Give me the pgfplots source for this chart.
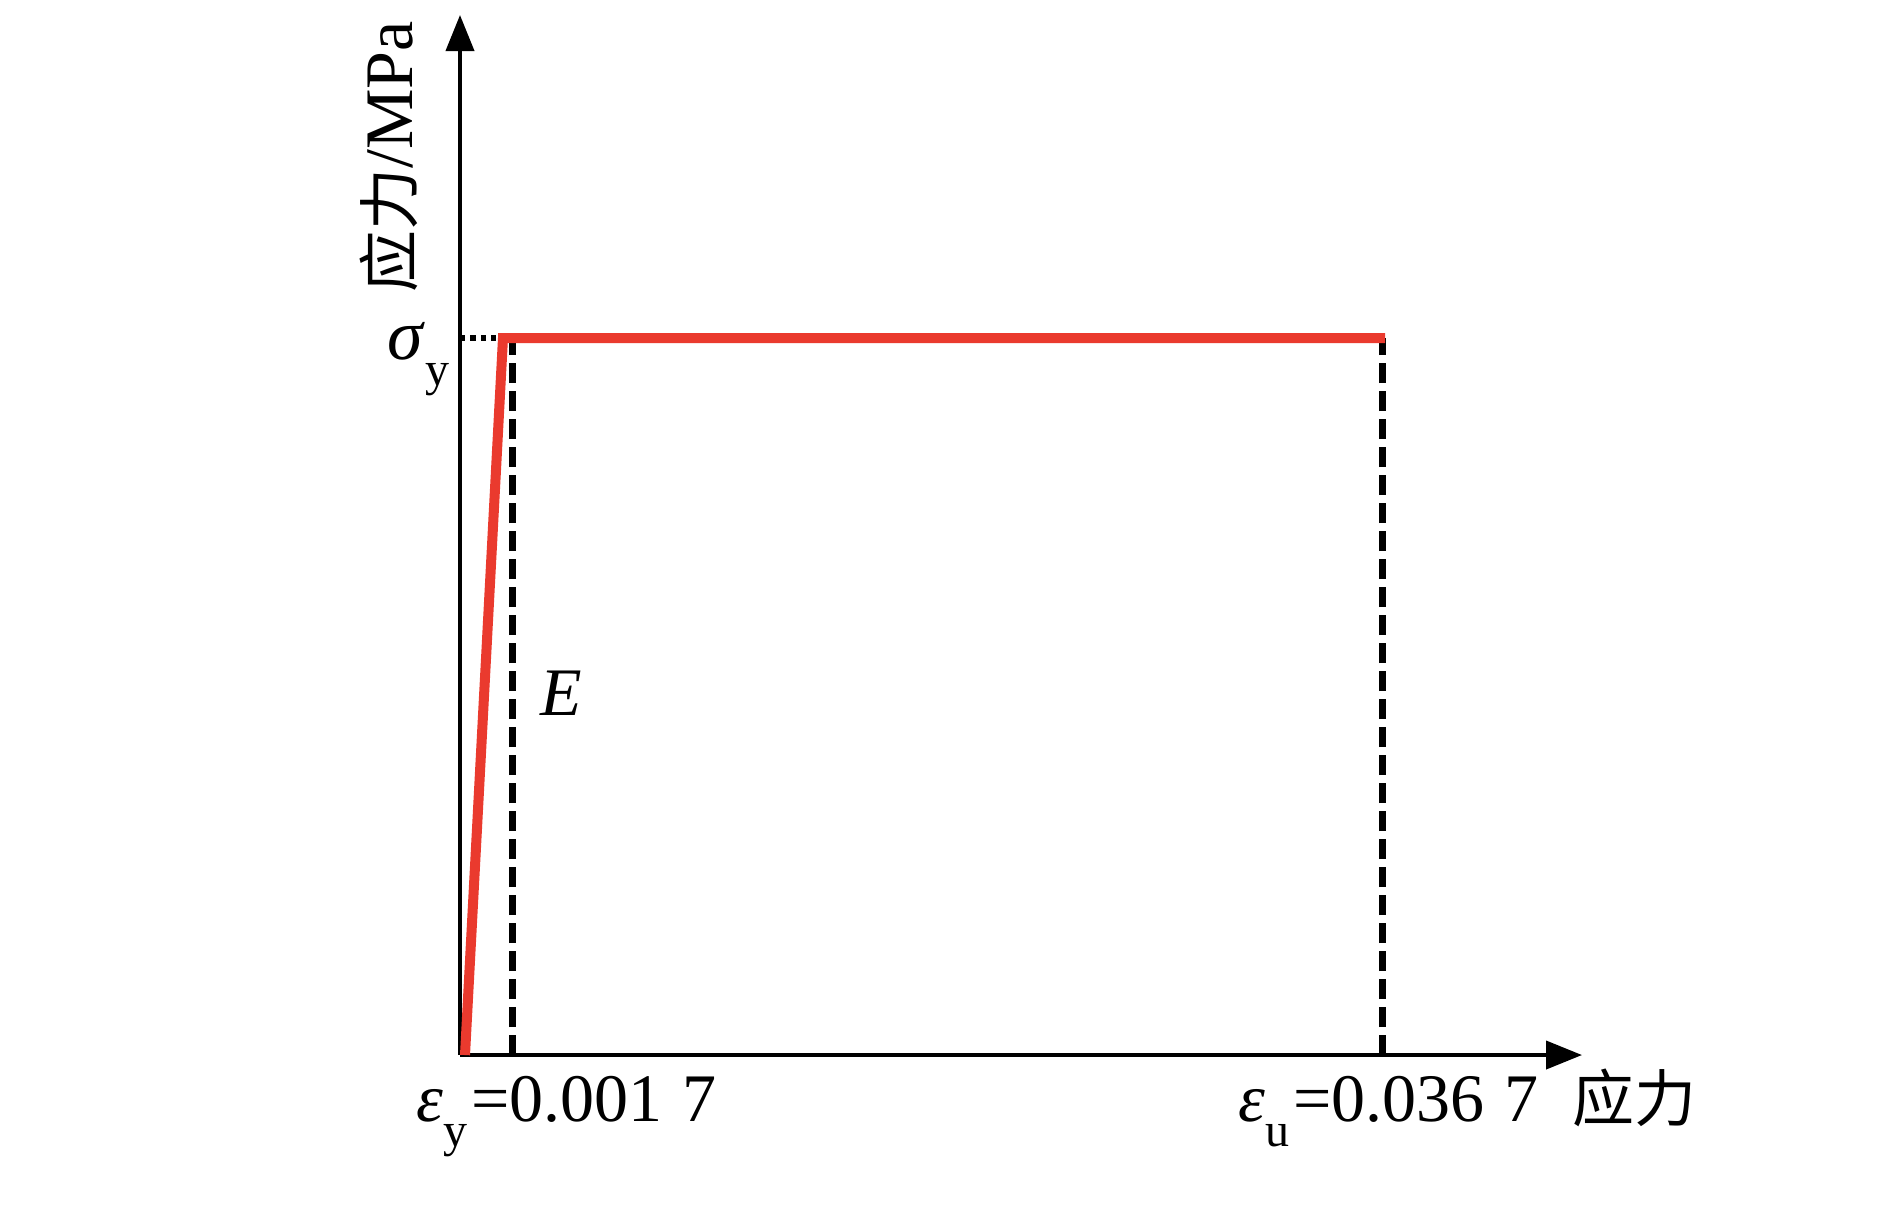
\documentclass[border=0pt]{standalone}
\usepackage{fontspec}
\setmainfont{Liberation Serif}
\newfontfamily\cjk{Noto Sans CJK SC}
\usepackage{pgfplots}
\pgfplotsset{compat=1.18}
\usetikzlibrary{arrows.meta}
\definecolor{redline}{RGB}{234,58,46}
\newcommand\sub[1]{\raisebox{-0.8ex}{\fontsize{12}{12}\selectfont #1}}
\newcommand\zh[1]{{\fontsize{15.5}{15.5}\selectfont\cjk #1}}
\begin{document}
\begin{tikzpicture}[x=0.25pt,y=0.25pt]
\useasboundingbox (-460,-160) rectangle (1430,1055);
\begin{axis}[
  at={(0,0)}, anchor=origin,
  x=0.25pt, y=0.25pt,
  xmin=0, xmax=1122, ymin=0, ymax=1040,
  axis lines=left,
  axis line style={line width=1pt, -{Triangle[length=9pt,width=7pt]}},
  xtick=\empty, ytick=\empty,
  clip=false,
  every axis plot/.append style={line join=miter},
]
\addplot[black, line width=1.5pt, dash pattern=on 1.3pt off 1.3pt] coordinates {(0,717) (43,717)};
\addplot[black, line width=1.75pt, dash pattern=on 5pt off 2pt] coordinates {(52,0) (52,717)};
\addplot[black, line width=1.75pt, dash pattern=on 5pt off 2pt] coordinates {(922,0) (922,717)};
\addplot[redline, line width=2.5pt] coordinates {(5,0) (43,717) (925,717)};
\node[anchor=base east, font=\fontsize{18}{18}\selectfont, inner sep=0pt] at (axis cs:-10,696) {\textit{σ}\sub{y}};
\node[anchor=base west, font=\fontsize{17}{17}\selectfont, inner sep=0pt] at (axis cs:80,340) {\textit{E}};
\node[anchor=base west, font=\fontsize{17}{17}\selectfont, inner sep=0pt] at (axis cs:-44,-66) {\textit{ε}\sub{y}\hspace{0.05em}=0.001\hspace{0.3em}7};
\node[anchor=base west, font=\fontsize{17}{17}\selectfont, inner sep=0pt] at (axis cs:778,-66) {\textit{ε}\sub{u}\hspace{0.05em}=0.036\hspace{0.3em}7\hspace{0.5em}\zh{应力}};
\node[rotate=90, anchor=base, font=\fontsize{17}{17}\selectfont, inner sep=0pt] at (axis cs:-48,898) {\zh{应力}/MPa};
\end{axis}
\end{tikzpicture}
\end{document}
